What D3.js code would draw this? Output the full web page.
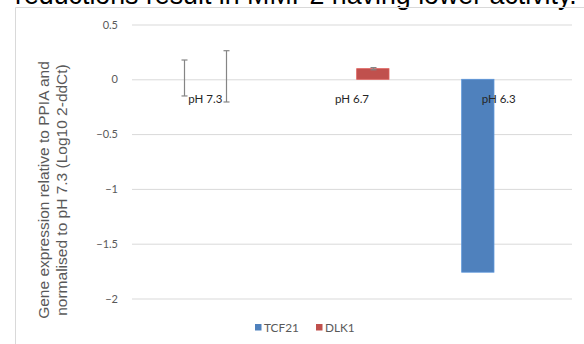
<!DOCTYPE html>
<html>
<head>
<meta charset="utf-8">
<script src="https://cdn.jsdelivr.net/npm/d3@7/dist/d3.min.js"></script>
<style>
  html, body { margin: 0; padding: 0; background: #fff; }
  svg { display: block; }
</style>
</head>
<body>
<svg id="chart" width="584" height="344"></svg>
<script>
// Gene expression (log10 2^-ddCt) per pH condition
const categories = ["pH 7.3", "pH 6.7", "pH 6.3"];
const seriesNames = ["TCF21", "DLK1"];
const tcf21Values = [0, null, -1.76];
const dlk1Values = [0, 0.097, null];
// Custom error bar extents (plus / minus)
const tcf21ErrPlus = [0.176, null, 0];
const tcf21ErrMinus = [0.152, null, 0];
const dlk1ErrPlus = [0.261, 0.01, null];
const dlk1ErrMinus = [0.207, 0.01, null];
const yTicks = [0.5, 0, -0.5, -1, -1.5, -2];
const seriesColors = ["#4f81bd", "#c0504d"];
const yTitleLines = ["Gene expression relative to PPIA and", "normalised to pH 7.3 (Log10 2-ddCt)"];
const headingText = "reductions result in MMP2 having lower activity.";

const series = [
  { name: seriesNames[0], values: tcf21Values, plus: tcf21ErrPlus, minus: tcf21ErrMinus },
  { name: seriesNames[1], values: dlk1Values, plus: dlk1ErrPlus, minus: dlk1ErrMinus }
];

const svg = d3.select("#chart");
const plot = { left: 132, right: 572, top: 24.5, bottom: 298.5 };

// Last line of the paragraph above the chart (runs past the top edge)
const heading = svg.append("text")
  .attr("x", 15).attr("y", 3.5)
  .attr("font-family", "Liberation Sans, Arial, sans-serif")
  .attr("font-size", 20)
  .attr("fill", "#000")
  .text(headingText);
const hw = heading.node().getComputedTextLength();
heading.attr("font-size", 20 * 562 / hw);

// Chart area frame
svg.append("path")
  .attr("d", "M15.5,400 V7.5 H600")
  .attr("fill", "none")
  .attr("stroke", "#d9d9d9")
  .attr("stroke-width", 1);

const y = d3.scaleLinear().domain([-2, 0.5]).range([plot.bottom, plot.top]);
const x0 = d3.scaleBand().domain(categories).range([plot.left, plot.right]).paddingInner(0).paddingOuter(0);
const half = 37;
const x1 = d3.scaleBand().domain(seriesNames)
  .range([x0.bandwidth() / 2 - half, x0.bandwidth() / 2 + half])
  .paddingInner(0.225).paddingOuter(0);

// Gridlines and value labels
const yAxis = d3.axisLeft(y).tickValues(yTicks).tickSize(-(plot.right - plot.left)).tickPadding(14)
  .tickFormat(d => d3.format("")(d));
const gy = svg.append("g").attr("transform", `translate(${plot.left},0)`).call(yAxis);
gy.select(".domain").remove();
gy.selectAll(".tick line").attr("stroke", "#d9d9d9").attr("stroke-width", 1);
gy.selectAll(".tick text")
  .attr("font-family", "Lato, Carlito, sans-serif")
  .attr("font-size", 11)
  .attr("fill", "#595959");

// Bars
series.forEach((s, si) => {
  const pts = categories.map((c, i) => ({ c, v: s.values[i] }))
    .filter(d => d.v !== null);
  svg.append("g").selectAll("rect")
    .data(pts)
    .join("rect")
    .attr("x", d => x0(d.c) + x1(s.name))
    .attr("width", x1.bandwidth())
    .attr("y", d => y(Math.max(0, d.v)))
    .attr("height", d => Math.abs(y(d.v) - y(0)))
    .attr("fill", seriesColors[si])
    .attr("stroke", d3.color(seriesColors[si]).brighter(0.4))
    .attr("stroke-width", 0.8);
});

// Error bars
series.forEach((s) => {
  const pts = categories.map((c, i) => ({ c, v: s.values[i], p: s.plus[i], m: s.minus[i] }))
    .filter(d => d.v !== null && (d.p || d.m));
  const g = svg.append("g").attr("stroke", "#858585").attr("stroke-width", 1.2).attr("fill", "none");
  pts.forEach(d => {
    const cx = Math.round(x0(d.c) + x1(s.name) + x1.bandwidth() / 2) + 0.5;
    const yt = y(d.v + d.p), yb = y(d.v - d.m);
    g.append("line").attr("x1", cx).attr("x2", cx).attr("y1", yt).attr("y2", yb);
    g.append("line").attr("x1", cx - 3).attr("x2", cx + 3).attr("y1", yt).attr("y2", yt);
    g.append("line").attr("x1", cx - 3).attr("x2", cx + 3).attr("y1", yb).attr("y2", yb);
  });
});

// Category labels beside the zero line
svg.append("g").selectAll("text")
  .data(categories)
  .join("text")
  .attr("x", d => x0(d) + x0.bandwidth() / 2)
  .attr("y", y(0) + 23.5)
  .attr("text-anchor", "middle")
  .attr("font-family", "Lato, Carlito, sans-serif")
  .attr("font-size", 11.5)
  .attr("fill", "#262626")
  .text(d => d);

// Y axis title
const yTitle = svg.append("text")
  .attr("transform", "translate(0,190) rotate(-90)")
  .attr("text-anchor", "middle")
  .attr("font-family", "Liberation Sans, Arial, sans-serif")
  .attr("font-size", 15.5)
  .attr("fill", "#595959");
yTitle.selectAll("tspan")
  .data(yTitleLines)
  .join("tspan")
  .attr("x", 0)
  .attr("y", (d, i) => 48.5 + i * 18.5)
  .text(d => d);

// Legend
const legend = svg.append("g").attr("font-family", "Lato, Carlito, sans-serif").attr("font-size", 11.8).attr("fill", "#595959");
const legendX = [255, 316];
seriesNames.forEach((name, i) => {
  legend.append("rect").attr("x", legendX[i]).attr("y", 324).attr("width", 6.5).attr("height", 6.5).attr("fill", seriesColors[i]);
  legend.append("text").attr("x", legendX[i] + 9).attr("y", 331.5).text(name);
});
</script>
</body>
</html>
